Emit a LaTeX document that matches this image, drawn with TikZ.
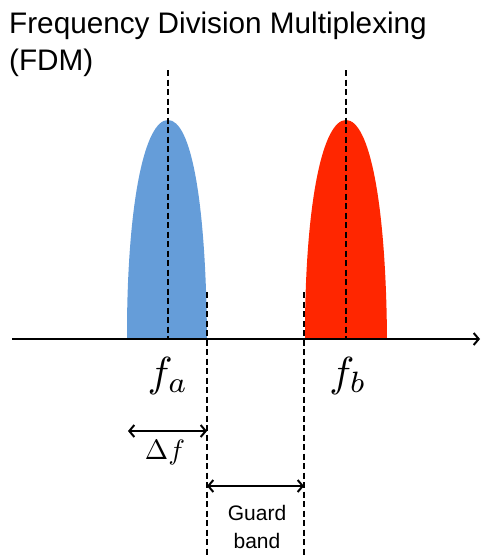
\documentclass[tikz,border=0pt]{standalone}
\usepackage{fontspec}
\setsansfont{Liberation Sans}
\usetikzlibrary{positioning,arrows.meta,calc}
\definecolor{lobeblue}{RGB}{101,157,217}
\definecolor{lobered}{RGB}{255,38,0}
\tikzset{
  guide/.style={line width=2.4pt,dash pattern=on 6pt off 3.5pt},
  span/.style={<->,line width=2.4pt},
  lbl/.style={font=\fontsize{29.7}{34}\selectfont\sffamily,inner sep=0pt}
}
\begin{document}
\begin{tikzpicture}[>={Straight Barb[length=5pt,width=12pt,line width=2pt]},x=1pt,y=-1pt]
  \useasboundingbox (0,0) rectangle (481,557);
  % title
  \node[lbl,anchor=base west,align=left] (title) at (9,33) {Frequency Division Multiplexing};
  \node[lbl,anchor=base west] (fdm) at (9,70) {(FDM)};
  % the two lobes
  \fill[lobeblue] (127,339) -- (127,325) .. controls (128,200) and (145,120) .. (168,120)
    .. controls (191,120) and (206,200) .. (207,339) -- cycle;
  \fill[lobered] (305,339) -- (305,325) .. controls (306,200) and (323,120) .. (346,120)
    .. controls (369,120) and (386,200) .. (387,339) -- cycle;
  % frequency axis
  \coordinate (o) at (12,339);
  \coordinate (e) at (480,339);
  \draw[->,line width=2.6pt] (o) -- (e);
  % centre lines and band edges
  \coordinate (ca) at (168,70);  \coordinate (cab) at (168,339);
  \coordinate (cb) at (346,70);  \coordinate (cbb) at (346,339);
  \coordinate (ea) at (207,292); \coordinate (eab) at (207,557);
  \coordinate (eb) at (304,292); \coordinate (ebb) at (304,557);
  \draw[guide] (ca) -- (cab);
  \draw[guide] (cb) -- (cbb);
  \draw[guide] (ea) -- (eab);
  \draw[guide] (eb) -- (ebb);
  % labels
  \node[inner sep=0pt,scale=4.2] (fa) at (168,376) {$f_a$};
  \node[inner sep=0pt,scale=4.2] (fb) at (348,376) {$f_b$};
  % widths
  \coordinate (da) at (128,431); \coordinate (db) at (207,431);
  \draw[span] (da) -- (db);
  \node[inner sep=0pt,scale=2.8] (df) at (165,452) {$\Delta f$};
  \coordinate (ga) at (207,486); \coordinate (gb) at (304,486);
  \draw[span] (ga) -- (gb);
  \node[align=center,inner sep=0pt,font=\fontsize{21}{28}\selectfont\sffamily] (guard) at (257,527) {Guard\\band};
\end{tikzpicture}
\end{document}
